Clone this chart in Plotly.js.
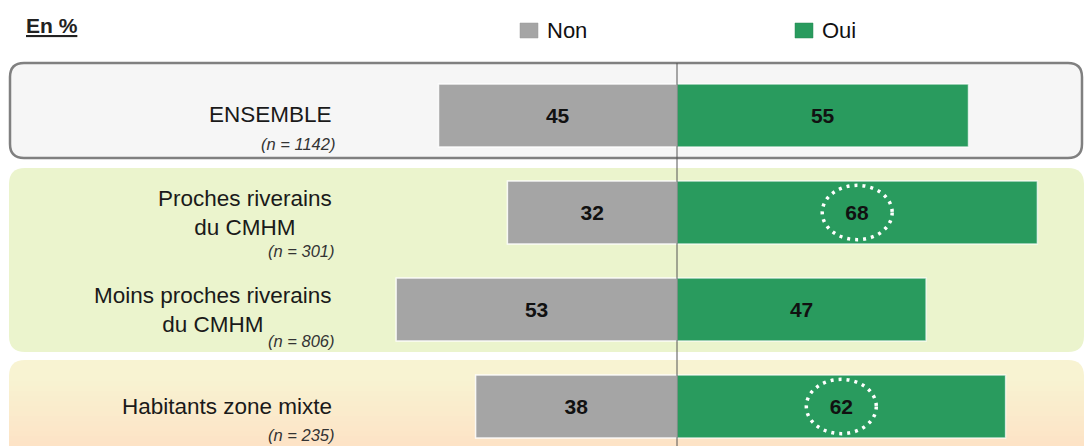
<!DOCTYPE html>
<html>
<head>
<meta charset="utf-8">
<script src="https://cdn.plot.ly/plotly-3.0.1.min.js"></script>
<style>html,body{margin:0;padding:0;background:#fff;}#chart{width:1085px;height:446px;}</style>
</head>
<body>
<div id="chart"></div>
<script>
// ---- data ----
var categories = ["ENSEMBLE", "Proches riverains<br>du CMHM", "Moins proches riverains<br>du CMHM", "Habitants zone mixte"];
var sampleSizes = ["(n = 1142)", "(n = 301)", "(n = 806)", "(n = 235)"];
var nonValues = [45, 32, 53, 38];
var ouiValues = [55, 68, 47, 62];
var highlighted = [false, true, false, true];
var seriesNames = ["Non", "Oui"];

// ---- styles ----
var W = 1085, H = 446;
var GRAY = "#a5a5a5", GREEN = "#299b5e";
var FONT = "Liberation Sans, Arial, sans-serif";
var rows = categories.map(function (_, i) { return i; });

function px(x) { return x / W; }
function py(y) { return 1 - y / H; }
function roundRect(x0, y0, x1, y1, r) {
  var rx = r / W, ry = r / H;
  var X0 = px(x0), X1 = px(x1), Y0 = py(y0), Y1 = py(y1);
  return "M" + (X0 + rx) + "," + Y0 +
    " L" + (X1 - rx) + "," + Y0 + " Q" + X1 + "," + Y0 + " " + X1 + "," + (Y0 - ry) +
    " L" + X1 + "," + (Y1 + ry) + " Q" + X1 + "," + Y1 + " " + (X1 - rx) + "," + Y1 +
    " L" + (X0 + rx) + "," + Y1 + " Q" + X0 + "," + Y1 + " " + X0 + "," + (Y1 + ry) +
    " L" + X0 + "," + (Y0 - ry) + " Q" + X0 + "," + Y0 + " " + (X0 + rx) + "," + Y0 + " Z";
}
function hexToRgb(h) { return [parseInt(h.substr(1, 2), 16), parseInt(h.substr(3, 2), 16), parseInt(h.substr(5, 2), 16)]; }
function mix(a, b, t) {
  var A = hexToRgb(a), B = hexToRgb(b);
  return "rgb(" + A.map(function (v, k) { return Math.round(v + (B[k] - v) * t); }).join(",") + ")";
}

var traces = [
  {
    type: "bar", orientation: "h", name: seriesNames[0],
    y: rows, x: nonValues.map(function (v) { return -v; }),
    text: nonValues.map(String), textposition: "inside", insidetextanchor: "middle",
    textangle: 0, constraintext: "none",
    textfont: { family: FONT, size: 21, color: "#111", weight: "bold" },
    marker: { color: GRAY, line: { color: "rgba(255,255,255,0.85)", width: 1.5 } },
    width: 0.65, hoverinfo: "skip", showlegend: false
  },
  {
    type: "bar", orientation: "h", name: seriesNames[1],
    y: rows, x: ouiValues,
    text: ouiValues.map(String), textposition: "inside", insidetextanchor: "middle",
    textangle: 0, constraintext: "none",
    textfont: { family: FONT, size: 21, color: "#111", weight: "bold" },
    marker: { color: GREEN, line: { color: "rgba(255,255,255,0.7)", width: 1.5 } },
    width: 0.65, hoverinfo: "skip", showlegend: false
  }
];

var shapes = [];
// background panels
shapes.push({ type: "path", xref: "paper", yref: "paper", layer: "below",
  path: roundRect(10, 63, 1082, 158, 14), fillcolor: "#f6f6f6", line: { color: "#808080", width: 2.5 } });
shapes.push({ type: "path", xref: "paper", yref: "paper", layer: "below",
  path: roundRect(9, 168, 1084, 352, 16), fillcolor: "#ebf4cd", line: { width: 0 } });
var topC = "#f8f3d2", botC = "#fde2c5";
shapes.push({ type: "path", xref: "paper", yref: "paper", layer: "below",
  path: roundRect(9, 360, 1084, 480, 16), fillcolor: topC, line: { width: 0 } });
for (var s = 376; s < H; s += 5) {
  shapes.push({ type: "rect", xref: "paper", yref: "paper", layer: "below",
    x0: px(9), x1: px(1084), y0: py(s + 5), y1: py(s),
    fillcolor: mix(topC, botC, (s - 376) / (H - 376)), line: { width: 0 } });
}
// centre line
shapes.push({ type: "line", xref: "x", yref: "paper", layer: "above",
  x0: 0, x1: 0, y0: 0, y1: py(63), line: { color: "#555", width: 1 } });
// dotted highlight circles
highlighted.forEach(function (h, i) {
  if (!h) return;
  var c = ouiValues[i] / 2;
  shapes.push({ type: "circle", xref: "x", yref: "y", layer: "above",
    x0: c - 6.6, x1: c + 6.6, y0: i - 0.28, y1: i + 0.28,
    line: { color: "#ffffff", width: 3.5, dash: "3px,5px" } });
});
// legend squares
shapes.push({ type: "rect", xref: "paper", yref: "paper", x0: px(520), x1: px(538), y0: py(38), y1: py(23),
  fillcolor: GRAY, line: { color: "#999", width: 0.5 } });
shapes.push({ type: "rect", xref: "paper", yref: "paper", x0: px(795), x1: px(813), y0: py(38), y1: py(23),
  fillcolor: GREEN, line: { color: "#2a8a55", width: 0.5 } });

var annotations = [];
annotations.push({ xref: "paper", yref: "paper", x: px(24), y: py(26), xanchor: "left", yanchor: "middle",
  text: "<b><u>En %</u></b>", showarrow: false, font: { family: FONT, size: 21, color: "#222" } });
annotations.push({ xref: "paper", yref: "paper", x: px(545), y: py(31), xanchor: "left", yanchor: "middle",
  text: seriesNames[0], showarrow: false, font: { family: FONT, size: 22, color: "#111" } });
annotations.push({ xref: "paper", yref: "paper", x: px(820), y: py(31), xanchor: "left", yanchor: "middle",
  text: seriesNames[1], showarrow: false, font: { family: FONT, size: 22, color: "#111" } });

var labelShift = [1, 0, 0, 0];
var nShift = [-28, -38, -31, -28];
categories.forEach(function (c, i) {
  annotations.push({ xref: "paper", yref: "y", x: px(334), y: i, yshift: labelShift[i],
    xanchor: "right", yanchor: "middle", align: "center",
    text: c, showarrow: false, font: { family: FONT, size: 22.5, color: "#1a1a1a" } });
  annotations.push({ xref: "paper", yref: "y", x: px(337), y: i, yshift: nShift[i],
    xanchor: "right", yanchor: "middle", align: "right",
    text: "<i>" + sampleSizes[i] + "</i>", showarrow: false, font: { family: FONT, size: 16.5, color: "#333" } });
});

var pxPerUnit = 5.3, zeroPx = 677, rowTop = 115.5, rowStep = 97;
var layout = {
  width: W, height: H,
  margin: { l: 0, r: 0, t: 0, b: 0, pad: 0 },
  paper_bgcolor: "#ffffff", plot_bgcolor: "rgba(0,0,0,0)",
  barmode: "relative", bargap: 0,
  showlegend: false,
  xaxis: { range: [-zeroPx / pxPerUnit, (W - zeroPx) / pxPerUnit], visible: false, fixedrange: true },
  yaxis: { range: [(H - rowTop) / rowStep, -rowTop / rowStep], visible: false, fixedrange: true },
  shapes: shapes,
  annotations: annotations,
  font: { family: FONT }
};

Plotly.newPlot("chart", traces, layout, { staticPlot: true, displayModeBar: false });
</script>
</body>
</html>
